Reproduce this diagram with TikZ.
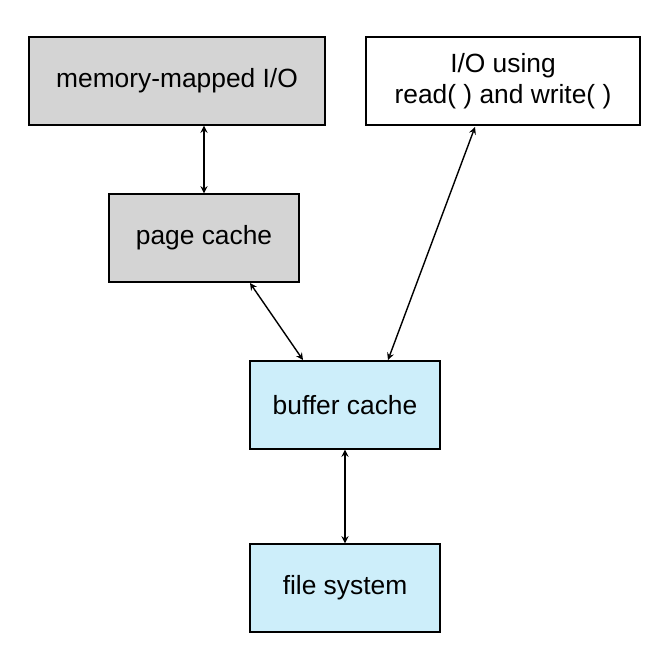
\documentclass[tikz,border=0pt]{standalone}
\usepackage{fontspec}
\setmainfont{Liberation Sans}
\usepackage{tikz}
\usetikzlibrary{positioning,arrows}
\definecolor{boxgray}{HTML}{D4D4D4}
\definecolor{boxblue}{HTML}{CDEEFA}
\tikzstyle{box}=[draw, thick, minimum width=3.8cm, minimum height=1.76cm, font=\fontsize{15}{18}\selectfont, align=center]
\tikzstyle{link}=[<->, >=stealth, thick]

\begin{document}
\begin{tikzpicture}[x=0.02cm, y=-0.02cm]
        \useasboundingbox (0,0) rectangle (670,670);
        \node[box, fill=boxgray, minimum width=5.92cm] (mmio) at (177,81) {memory-mapped I/O};
        \node[box, fill=white, minimum width=5.48cm] (rwio) at (503,81) {I/O using\\read( ) and write( )};
        \node[box, fill=boxgray] (page) at (204,238) {page cache};
        \node[box, fill=boxblue] (buffer) at (345,405) {buffer cache};
        \node[box, fill=boxblue] (fs) at (345,588) {file system};

        \draw[link] (mmio.south -| 204,0) -- (page.north);
        \draw[link] (250,283) -- (303,360);
        \draw[link] (475,127) -- (388,360);
        \draw[link] (buffer) -- (fs);
    \end{tikzpicture}
\end{document}
